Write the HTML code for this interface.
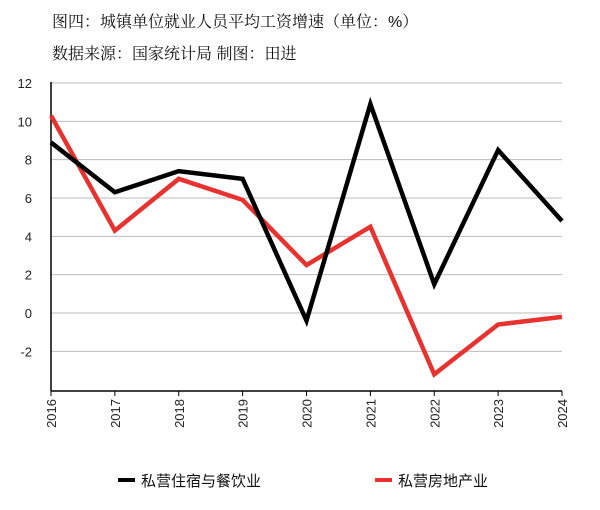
<!DOCTYPE html>
<html><head><meta charset="utf-8"><style>
body{margin:0;background:#fff;width:600px;height:510px;overflow:hidden;font-family:"Liberation Sans","Noto Sans CJK SC",sans-serif}
.t{position:absolute;left:52px;font-size:16px;color:#111;font-family:"Liberation Sans","Noto Serif CJK SC",serif}
</style></head><body>
<div class="t" style="top:9px">图四：城镇单位就业人员平均工资增速（单位：%）</div>
<div class="t" style="top:41px">数据来源：国家统计局 制图：田进</div>
<svg id="c" width="600" height="510" style="position:absolute;left:0;top:0"></svg>
<script>
const years=["2016","2017","2018","2019","2020","2021","2022","2023","2024"];
const hospitality=[8.9,6.3,7.4,7.0,-0.4,10.9,1.5,8.5,4.8];
const realEstate=[10.3,4.3,7.0,5.9,2.5,4.5,-3.2,-0.6,-0.2];
const yTicks=[12,10,8,6,4,2,0,-2];
const svg=document.getElementById('c');const NS='http://www.w3.org/2000/svg';
const x0=51,x1=562,yTop=83,yZero=313,yBot=391;
const X=i=>x0+(x1-x0)*i/(years.length-1);
const Y=v=>yZero-(yZero-yTop)*v/12;
function mk(t,a){const e=document.createElementNS(NS,t);for(const k in a)e.setAttribute(k,a[k]);svg.appendChild(e);return e;}
yTicks.forEach(v=>{const g=mk('line',{x1:x0,x2:x1,y1:Y(v),y2:Y(v),stroke:'#bbb','stroke-width':1});


const t=mk('text',{x:32,y:Y(v)+5,'text-anchor':'end','font-size':13,fill:'#222','font-family':'Liberation Sans'});t.textContent=v;

});
const ya=mk('line',{x1:x0,x2:x0,y1:yTop-1,y2:yBot,stroke:'#000','stroke-width':1.5});


const xa=mk('line',{x1:x0,x2:x1,y1:yBot,y2:yBot,stroke:'#000','stroke-width':1.5});


years.forEach((y,i)=>{const tk=mk('line',{x1:X(i),x2:X(i),y1:yBot,y2:yBot+5,stroke:'#000','stroke-width':1});


const t=mk('text',{x:0,y:0,'text-anchor':'end','font-size':13,fill:'#222','font-family':'Liberation Sans',transform:`translate(${X(i)+5},${yBot+8}) rotate(-90)`});t.textContent=y;

});
function line(d,c,n){const p=mk('polyline',{points:d.map((v,i)=>X(i)+','+Y(v)).join(' '),fill:'none',stroke:c,'stroke-width':4.5,'stroke-linejoin':'miter'});

}
line(realEstate,'#e8322f','real-estate-line');
line(hospitality,'#000','hospitality-line');
function leg(x,c,txt,n){const l=mk('line',{x1:x,x2:x+17,y1:480,y2:480,stroke:c,'stroke-width':4});


const t=mk('text',{x:x+23,y:486,'font-size':15,fill:'#111','font-family':'Liberation Sans, Noto Sans CJK SC, sans-serif'});t.textContent=txt;

}
leg(118,'#000','私营住宿与餐饮业','legend-hospitality');
leg(375,'#e8322f','私营房地产业','legend-real-estate');
</script>
</body></html>
